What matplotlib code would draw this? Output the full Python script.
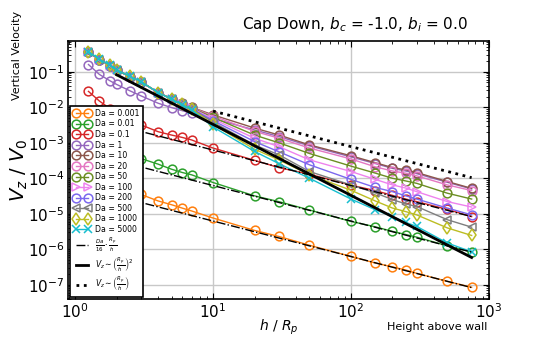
import numpy as np
import matplotlib
matplotlib.use("Agg")
import matplotlib.pyplot as plt
from matplotlib.ticker import NullFormatter

h = [1.25, 1.5, 1.8, 2, 2.5, 3, 4, 5, 6, 7, 10, 20, 30, 50, 100, 150, 200, 250, 300, 500, 750]

labels = ["Da = 0.001", "Da = 0.01", "Da = 0.1", "Da = 1", "Da = 10", "Da = 20",
          "Da = 50", "Da = 100", "Da = 200", "Da = 500", "Da = 1000", "Da = 5000"]
colors = ["#ff7f0e", "#2ca02c", "#d62728", "#9467bd", "#8c564b", "#e377c2",
          "#6b8e23", "#ee82ee", "#7b68ee", "#7f7f7f", "#bcbd22", "#17becf"]
markers = ["o", "o", "o", "o", "o", "o", "o", ">", "o", "<", "d", "x"]

v_da0001 = [3.0e-4, 1.7e-4, 1.0e-4, 8.0e-5, 5.0e-5, 3.5e-5, 2.3e-5, 1.8e-5, 1.44e-5, 1.2e-5,
            7.6e-6, 3.4e-6, 2.3e-6, 1.3e-6, 6.3e-7, 4.1e-7, 3.2e-7, 2.6e-7, 2.1e-7, 1.25e-7, 8.5e-8]
v_da001 = [3.1e-3, 1.7e-3, 1.0e-3, 8.0e-4, 5.0e-4, 3.6e-4, 2.5e-4, 1.8e-4, 1.45e-4, 1.25e-4,
           7.6e-5, 3.2e-5, 2.2e-5, 1.28e-5, 6.1e-6, 4.3e-6, 3.2e-6, 2.6e-6, 2.2e-6, 1.25e-6, 8.4e-7]
v_da01 = [0.028, 0.015, 0.009, 0.0072, 0.0045, 0.0032, 2.05e-3, 1.65e-3, 1.41e-3, 1.2e-3,
          7.1e-4, 3.2e-4, 2.0e-4, 1.3e-4, 6.4e-5, 4.5e-5, 3.3e-5, 2.6e-5, 2.2e-5, 1.33e-5, 8.3e-6]
v_da1 = [0.16, 0.084, 0.055, 0.044, 0.029, 0.021, 0.013, 0.0098, 0.0080, 0.0068,
         4.8e-3, 2.3e-3, 1.5e-3, 8.2e-4, 4.0e-4, 2.6e-4, 1.9e-4, 1.6e-4, 1.35e-4, 7.7e-5, 5.0e-5]
v_da10 = [0.35, 0.215, 0.148, 0.111, 0.072, 0.052, 0.026, 0.0175, 0.0128, 0.0100,
          6.1e-3, 2.6e-3, 1.66e-3, 8.7e-4, 4.3e-4, 2.75e-4, 2.0e-4, 1.73e-4, 1.45e-4, 8.1e-5, 5.2e-5]
v_da20 = [0.355, 0.218, 0.149, 0.112, 0.073, 0.052, 0.026, 0.0173, 0.0126, 0.0098,
          5.7e-3, 2.1e-3, 1.35e-3, 7.1e-4, 3.5e-4, 2.1e-4, 1.6e-4, 1.39e-4, 1.17e-4, 6.5e-5, 4.5e-5]
v_da50 = [0.36, 0.22, 0.15, 0.112, 0.073, 0.052, 0.026, 0.0171, 0.0124, 0.0096,
          5.2e-3, 1.65e-3, 1.0e-3, 5.0e-4, 2.2e-4, 1.4e-4, 1.0e-4, 8.4e-5, 7.2e-5, 3.8e-5, 2.6e-5]
v_da100 = [0.36, 0.22, 0.15, 0.112, 0.073, 0.052, 0.026, 0.017, 0.0122, 0.0094,
           4.7e-3, 1.34e-3, 7.8e-4, 3.3e-4, 1.55e-4, 9.3e-5, 6.5e-5, 5.3e-5, 4.2e-5, 2.2e-5, 1.55e-5]
v_da200 = [0.36, 0.22, 0.15, 0.112, 0.073, 0.052, 0.026, 0.017, 0.0121, 0.0092,
           4.2e-3, 1.08e-3, 5.6e-4, 2.4e-4, 9.3e-5, 5.5e-5, 4.2e-5, 3.2e-5, 2.6e-5, 1.45e-5, 9.3e-6]
v_da500 = [0.36, 0.22, 0.15, 0.112, 0.073, 0.052, 0.026, 0.017, 0.012, 0.0090,
           3.8e-3, 8.7e-4, 4.6e-4, 1.55e-4, 6.5e-5, 3.9e-5, 2.5e-5, 1.9e-5, 1.6e-5, 6.8e-6, 4.2e-6]
v_da1000 = [0.37, 0.225, 0.152, 0.113, 0.074, 0.053, 0.026, 0.017, 0.012, 0.0088,
            3.3e-3, 6.6e-4, 3.3e-4, 1.26e-4, 4.6e-5, 2.3e-5, 1.45e-5, 1.15e-5, 9.3e-6, 4.0e-6, 2.45e-6]
v_da5000 = [0.37, 0.225, 0.152, 0.113, 0.074, 0.053, 0.026, 0.0168, 0.0118, 0.0085,
            2.8e-3, 5.7e-4, 2.6e-4, 1.0e-4, 2.6e-5, 1.3e-5, 8.3e-6, 5.7e-6, 4.4e-6, 1.5e-6, 8.5e-7]

series = [v_da0001, v_da001, v_da01, v_da1, v_da10, v_da20, v_da50, v_da100,
          v_da200, v_da500, v_da1000, v_da5000]

# theory lines
da_small = [0.001, 0.01, 0.1]
h_sq = [2, 750]
c_sq = 0.33
h_lin = [10, 750]
c_lin = 0.078

fig = plt.figure(figsize=(5.45, 3.37), dpi=100)
ax = fig.add_axes([0.125, 0.113, 0.772, 0.765])

for v, lab, c, m in zip(series, labels, colors, markers):
    ax.plot(h, v, color=c, marker=m, fillstyle="none", markersize=6.3,
            markeredgewidth=1.1, linewidth=1.0, label=lab)

ha = np.array(h, dtype=float)
for i, da in enumerate(da_small):
    ax.plot(ha, da / 16.0 / ha, color="black", linestyle="-.", linewidth=1.0,
            label=r"$\frac{Da}{16}\cdot\frac{R_p}{h}$" if i == 0 else None, zorder=5)
hs = np.array(h_sq, dtype=float)
ax.plot(hs, c_sq / hs**2, color="black", linewidth=2.0,
        label=r"$V_z\sim\left(\frac{R_p}{h}\right)^2$", zorder=5)
hl = np.array(h_lin, dtype=float)
ax.plot(hl, c_lin / hl, color="black", linestyle=":", linewidth=2.0,
        label=r"$V_z\sim\left(\frac{R_p}{h}\right)$", zorder=5)

ax.set_xscale("log")
ax.set_yscale("log")
ax.set_xlim(0.89, 1000)
ax.set_ylim(4.0e-8, 0.73)
ax.xaxis.set_minor_formatter(NullFormatter())
ax.yaxis.set_minor_formatter(NullFormatter())
ax.grid(True, which="major", color="#c8c8c8", linewidth=1.0)
ax.tick_params(which="both", direction="in", top=True, right=True, labelsize=11, pad=2.5)
ax.tick_params(which="major", length=4)
ax.tick_params(which="minor", length=2)
for s in ax.spines.values():
    s.set_linewidth(1.2)

ax.set_xlabel(r"$h$ / $R_p$", fontsize=10)
ax.xaxis.set_label_coords(0.5, -0.072)
ax.set_ylabel(r"$V_z$ / $V_0$", fontsize=14)
ax.yaxis.set_label_coords(-0.09, 0.5)

leg = ax.legend(loc="lower left", fontsize=5.6, numpoints=2, framealpha=1,
                fancybox=False, edgecolor="black", borderaxespad=0.3,
                handlelength=2.2, labelspacing=0.2, borderpad=0.4, handletextpad=0.6)
leg.get_frame().set_linewidth(1.2)

fig.text(468 / 545, 1 - 25 / 337, r"Cap Down, $b_c$ = -1.0, $b_i$ = 0.0",
         ha="right", va="center", fontsize=11)
fig.text(17 / 545, 1 - 55 / 337, "Vertical Velocity", rotation=90,
         ha="center", va="center", fontsize=8)
fig.text(487 / 545, 1 - 327 / 337, "Height above wall", ha="right",
         va="center", fontsize=8)

fig.savefig("out.png", dpi=100)
